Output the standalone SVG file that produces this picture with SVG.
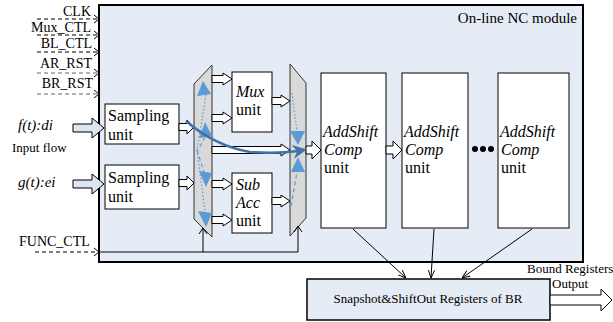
<svg xmlns="http://www.w3.org/2000/svg" width="613" height="322" viewBox="0 0 613 322" font-family="'Liberation Serif', 'DejaVu Serif', serif">
<style>
text{font-family:'Liberation Serif','DejaVu Serif',serif;fill:#000}
.lbl{font-size:14px}
.big{font-size:16px}
.it{font-style:italic}
.box{fill:#fff;stroke:#000;stroke-width:1}
.mux{fill:#d9d9d9;stroke:#333;stroke-width:1}
.ha{fill:#fff;stroke:#000;stroke-width:1}
.hb{fill:#dde6f2;stroke:#000;stroke-width:1}
.dash{stroke:#000;stroke-width:1;stroke-dasharray:4 3;fill:none}
.dashg{stroke:#666;stroke-width:1.2;stroke-dasharray:4 3;fill:none}
.chev{fill:none;stroke:#000;stroke-width:1}
.ln{stroke:#000;stroke-width:1;fill:none}
.btri{fill:#5b9bd5}
.bdot{stroke:#5b9bd5;stroke-width:1.2;stroke-dasharray:1.5 2;fill:none}
.bdash{stroke:#5b9bd5;stroke-width:1.2;stroke-dasharray:4 3;fill:none}
</style>
<defs>
<marker id="v" viewBox="0 0 10 10" refX="10" refY="5" markerWidth="8" markerHeight="8" orient="auto" markerUnits="userSpaceOnUse">
<path d="M0,1 L10,5 L0,9" fill="none" stroke="#000" stroke-width="1.2"/>
</marker>
<marker id="bh" viewBox="0 0 10 10" refX="8" refY="5" markerWidth="14" markerHeight="14" orient="auto" markerUnits="userSpaceOnUse">
<path d="M0,0 L10,5 L0,10 L3,5 Z" fill="#3f74a8"/>
</marker>
</defs>

<g id="module">
<rect x="99" y="5" width="484" height="257" fill="#e6ecf6" stroke="#000" stroke-width="2"/>
<text x="577" y="23" text-anchor="end" style="font-size:15px">On-line NC module</text>
</g>

<g id="signals">
<text class="lbl" x="91" y="16" text-anchor="end">CLK</text>
<text class="lbl" x="91" y="32" text-anchor="end">Mux_CTL</text>
<text class="lbl" x="92" y="48" text-anchor="end">BL_CTL</text>
<text class="lbl" x="92" y="68" text-anchor="end">AR_RST</text>
<text class="lbl" x="93" y="88" text-anchor="end">BR_RST</text>
<text class="lbl" x="19" y="246">FUNC_CTL</text>
<text class="it" x="18" y="130" style="font-size:15px">f(t):di</text>
<text x="12" y="152" style="font-size:13px">Input flow</text>
<text class="it" x="18" y="187" style="font-size:15px">g(t):ei</text>
</g>

<g id="sampling1">
<rect class="box" x="105" y="104" width="74" height="40"/>
<text class="big" x="108" y="121">Sampling</text>
<text class="big" x="108" y="140">unit</text>
</g>
<g id="sampling2">
<rect class="box" x="105" y="165" width="74" height="44"/>
<text class="big" x="108" y="183">Sampling</text>
<text class="big" x="108" y="202">unit</text>
</g>

<g id="demux">
<polygon class="mux" points="194,84 212,65 212,237 194,219"/>
</g>
<g id="mux-unit">
<rect class="box" x="232" y="72" width="40" height="60"/>
<text class="big it" x="236" y="97">Mux</text>
<text class="big" x="236" y="115">unit</text>
</g>
<g id="subacc-unit">
<rect class="box" x="232" y="173" width="40" height="60"/>
<text class="big it" x="236" y="190">Sub</text>
<text class="big it" x="236" y="208">Acc</text>
<text class="big" x="236" y="226">unit</text>
</g>
<g id="mux">
<polygon class="mux" points="290,64 306,83 306,218 290,236"/>
</g>

<g id="addshift1">
<rect class="box" x="321" y="73" width="65" height="155"/>
<text class="big it" x="323" y="137">AddShift</text>
<text class="big it" x="324" y="155">Comp</text>
<text class="big" x="324" y="173">unit</text>
</g>
<g id="addshift2">
<rect class="box" x="402" y="73" width="66" height="155"/>
<text class="big it" x="404" y="137">AddShift</text>
<text class="big it" x="405" y="155">Comp</text>
<text class="big" x="405" y="173">unit</text>
</g>
<g id="dots">
<circle cx="475" cy="149" r="3"/>
<circle cx="483" cy="149" r="3"/>
<circle cx="491" cy="149" r="3"/>
</g>
<g id="addshift3">
<rect class="box" x="498" y="73" width="71" height="155"/>
<text class="big it" x="500" y="137">AddShift</text>
<text class="big it" x="501" y="155">Comp</text>
<text class="big" x="501" y="173">unit</text>
</g>

<g id="snapshot">
<rect x="307" y="279" width="243" height="41" fill="#e6ecf6" stroke="#000" stroke-width="1.5"/>
<text x="428" y="303" text-anchor="middle" style="font-size:13px">Snapshot&amp;ShiftOut Registers of BR</text>
<text x="527" y="273" style="font-size:13px">Bound Registers</text>
<text x="552" y="288" style="font-size:13px">Output</text>
</g>

<g id="connectors">
<line class="dash" x1="37" y1="19" x2="98" y2="19"/><polyline class="chev" points="94,15 99,19 94,23"/>
<line class="dash" x1="37" y1="35" x2="98" y2="35"/><polyline class="chev" points="94,31 99,35 94,39"/>
<line class="dash" x1="37" y1="52" x2="98" y2="52"/><polyline class="chev" points="94,48 99,52 94,56"/>
<line class="dashg" x1="37" y1="73" x2="98" y2="73"/><polyline class="chev" points="94,69 99,73 94,77"/>
<line class="dashg" x1="37" y1="94" x2="98" y2="94"/><polyline class="chev" points="94,90 99,94 94,98"/>
<line class="dash" x1="35" y1="252" x2="98" y2="252"/><polyline class="chev" points="94,248 99,252 94,256"/>
<polyline class="ln" points="99,252 298,252"/>
<line class="ln" x1="203" y1="252" x2="203" y2="229"/><polyline class="chev" points="199,234 203,228 207,234"/>
<line class="ln" x1="298" y1="252" x2="298" y2="227"/><polyline class="chev" points="294,232 298,226 302,232"/>
<polygon class="hb" points="73,124 92,124 92,118 104,128 92,138 92,132 73,132"/>
<polygon class="hb" points="73,180 92,180 92,174 104,184 92,194 92,188 73,188"/>
<polygon class="ha" points="179,123.5 187,123.5 187,120 194,127 187,134 187,130.5 179,130.5"/>
<polygon class="ha" points="179,179.5 187,179.5 187,176 194,183 187,190 187,186.5 179,186.5"/>
<polygon class="ha" points="212,75.5 223,75.5 223,73 232,79 223,85 223,82.5 212,82.5"/>
<polygon class="ha" points="212,114.5 223,114.5 223,112 232,118 223,124 223,121.5 212,121.5"/>
<polygon class="ha" points="212,180.5 223,180.5 223,178 232,184 223,190 223,187.5 212,187.5"/>
<polygon class="ha" points="212,216.5 223,216.5 223,214 232,220 223,226 223,223.5 212,223.5"/>
<polygon class="ha" points="272,97.5 281,97.5 281,95 290,101 281,107 281,104.5 272,104.5"/>
<polygon class="ha" points="272,197.5 281,197.5 281,195 290,201 281,207 281,204.5 272,204.5"/>
<polygon class="ha" points="212,146.5 281,146.5 281,144 290,150 281,156 281,153.5 212,153.5"/>
<polygon class="ha" points="306,146 312,146 312,141 321,150 312,159 312,154 306,154"/>
<polygon class="ha" points="386,146 393,146 393,141 402,150 393,159 393,154 386,154"/>
<polygon class="ha" points="550,295 601,295 601,289 612,300 601,311 601,305 550,305"/>
<line class="ln" x1="353" y1="229" x2="406" y2="278" marker-end="url(#v)"/>
<line class="ln" x1="434" y1="229" x2="431" y2="278" marker-end="url(#v)"/>
<line class="ln" x1="532" y1="229" x2="462" y2="278" marker-end="url(#v)"/>
<line class="bdot" x1="206" y1="95" x2="197" y2="150"/>
<line class="bdash" x1="205" y1="137" x2="198" y2="150"/>
<line class="bdash" x1="197" y1="150" x2="204" y2="172"/>
<line class="bdot" x1="197" y1="150" x2="205" y2="212"/>
<polygon class="btri" points="203,81 197,96 211,94"/>
<polygon class="btri" points="205,122 199,138 212,136"/>
<polygon class="btri" points="199,171 212,173 206,187"/>
<polygon class="btri" points="198,211 212,213 206,227"/>
<line class="bdot" x1="292" y1="93" x2="297" y2="131"/>
<line class="bdash" x1="291" y1="206" x2="297" y2="172"/>
<polygon class="btri" points="290,131 305,131 298,145"/>
<polygon class="btri" points="298,157 291,172 305,172"/>
<path d="M186,121 Q215,146 250,152 Q280,154 304,150" fill="none" stroke="#3f74a8" stroke-width="2.5" marker-end="url(#bh)"/>
</g>
</svg>
